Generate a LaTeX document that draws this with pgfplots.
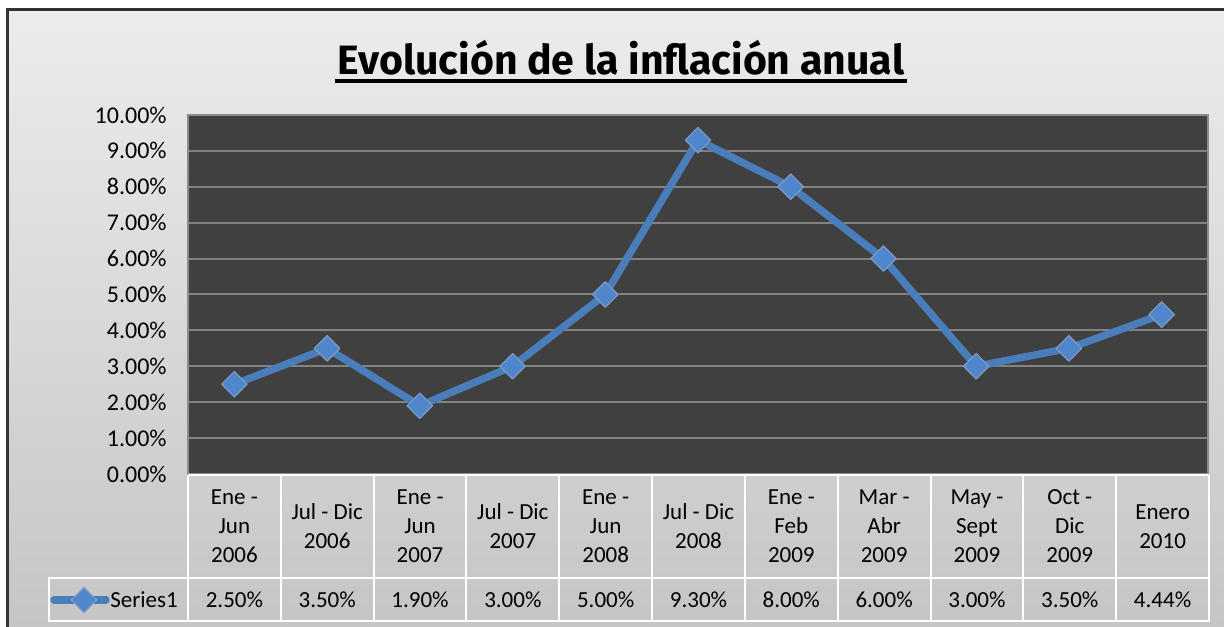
\documentclass[border=0pt]{standalone}
\usepackage{fontspec}
\setmainfont{Carlito}
\newfontfamily\titlefont{Fira Sans}
\usepackage{pgfplots}
\pgfplotsset{compat=1.18}
\definecolor{bgtop}{HTML}{ECECEC}
\definecolor{bgbot}{HTML}{C4C4C4}
\definecolor{plotbg}{HTML}{404040}
\definecolor{gridgray}{HTML}{828282}
\definecolor{axisgray}{HTML}{8C8C8C}
\definecolor{lineblue}{HTML}{4A7EBB}
\definecolor{markblue}{HTML}{4F86CC}
\definecolor{markedge}{HTML}{7E9CC4}
\begin{document}
\fontsize{11.5pt}{14.5pt}\selectfont
\begin{tikzpicture}
\begin{scope}[x=0.5pt,y=0.5pt]
\path[use as bounding box] (-188,-152) rectangle (1036,474);
\shade[top color=bgtop,bottom color=bgbot] (-180,-170) rectangle (1050,464);
\draw[line width=1.5pt,black!80] (-180,-170) rectangle (1050,464);
\end{scope}
\begin{axis}[
  at={(0,0)}, anchor=south west,
  scale only axis, width=510pt, height=179.5pt,
  xmin=-0.5, xmax=10.5, ymin=0, ymax=10,
  xtick=\empty, ytick={0,1,...,10},
  ymajorgrids, grid style={line width=1pt, color=gridgray},
  axis background/.style={fill=plotbg},
  axis line style={draw=axisgray, line width=1pt},
  tick style={draw=none},
  /pgf/number format/assume math mode=true,
  yticklabel={\pgfmathprintnumber[fixed,fixed zerofill,precision=2]{\tick}\%},
  yticklabel style={inner sep=0pt, xshift=-10.5pt, font=\fontsize{12pt}{14pt}\selectfont},
  clip=false,
]
\addplot[color=lineblue, line width=3.7pt, line join=round,
  mark=square*, mark size=4.5pt,
  mark options={rotate=45, fill=markblue, draw=markedge, line width=0.6pt}]
  table {
x y
0 2.50
1 3.50
2 1.90
3 3.00
4 5.00
5 9.30
6 8.00
7 6.00
8 3.00
9 3.50
10 4.44
};
\end{axis}
\begin{scope}[x=0.5pt,y=0.5pt]
% title
\node[inner sep=0pt, anchor=base, font=\titlefont\bfseries\fontsize{20.5pt}{24pt}\selectfont] (title) at (433,399) {Evolución de la inflación anual};
\draw[line width=1.6pt] ([xshift=-1pt,yshift=-3pt]title.base west) -- ([xshift=1pt,yshift=-3pt]title.base east);
% table grid
\draw[white, line width=1pt] (0,-1) -- (1021,-1);
\draw[white, line width=1pt] (-139,-104) rectangle (1021,-147);
\foreach \i in {0,...,11} {
  \draw[white, line width=1pt] ({\i*92.818},-1) -- ({\i*92.818},-147);
}
% categories
\foreach \c [count=\i from 0] in {{Ene -\\Jun\\2006},{Jul - Dic\\2006},{Ene -\\Jun\\2007},{Jul - Dic\\2007},{Ene -\\Jun\\2008},{Jul - Dic\\2008},{Ene -\\Feb\\2009},{Mar -\\Abr\\2009},{May -\\Sept\\2009},{Oct -\\Dic\\2009},{Enero\\2010}} {
  \node[align=center, inner sep=0pt] at ({(\i+0.5)*92.818},-52.5) {\c};
}
% values
\foreach \v [count=\i from 0] in {2.50,3.50,1.90,3.00,5.00,9.30,8.00,6.00,3.00,3.50,4.44} {
  \node[inner sep=0pt] at ({(\i+0.5)*92.818},-126) {\v\%};
}
% legend
\draw[lineblue, line width=3.7pt, line cap=round] (-134,-126) -- (-82,-126);
\fill[markblue, draw=markedge, line width=0.6pt] (-104,-113.5) -- (-91.5,-126) -- (-104,-138.5) -- (-116.5,-126) -- cycle;
\node[inner sep=0pt, anchor=west] at (-78,-126) {Series1};
\end{scope}
\end{tikzpicture}
\end{document}
